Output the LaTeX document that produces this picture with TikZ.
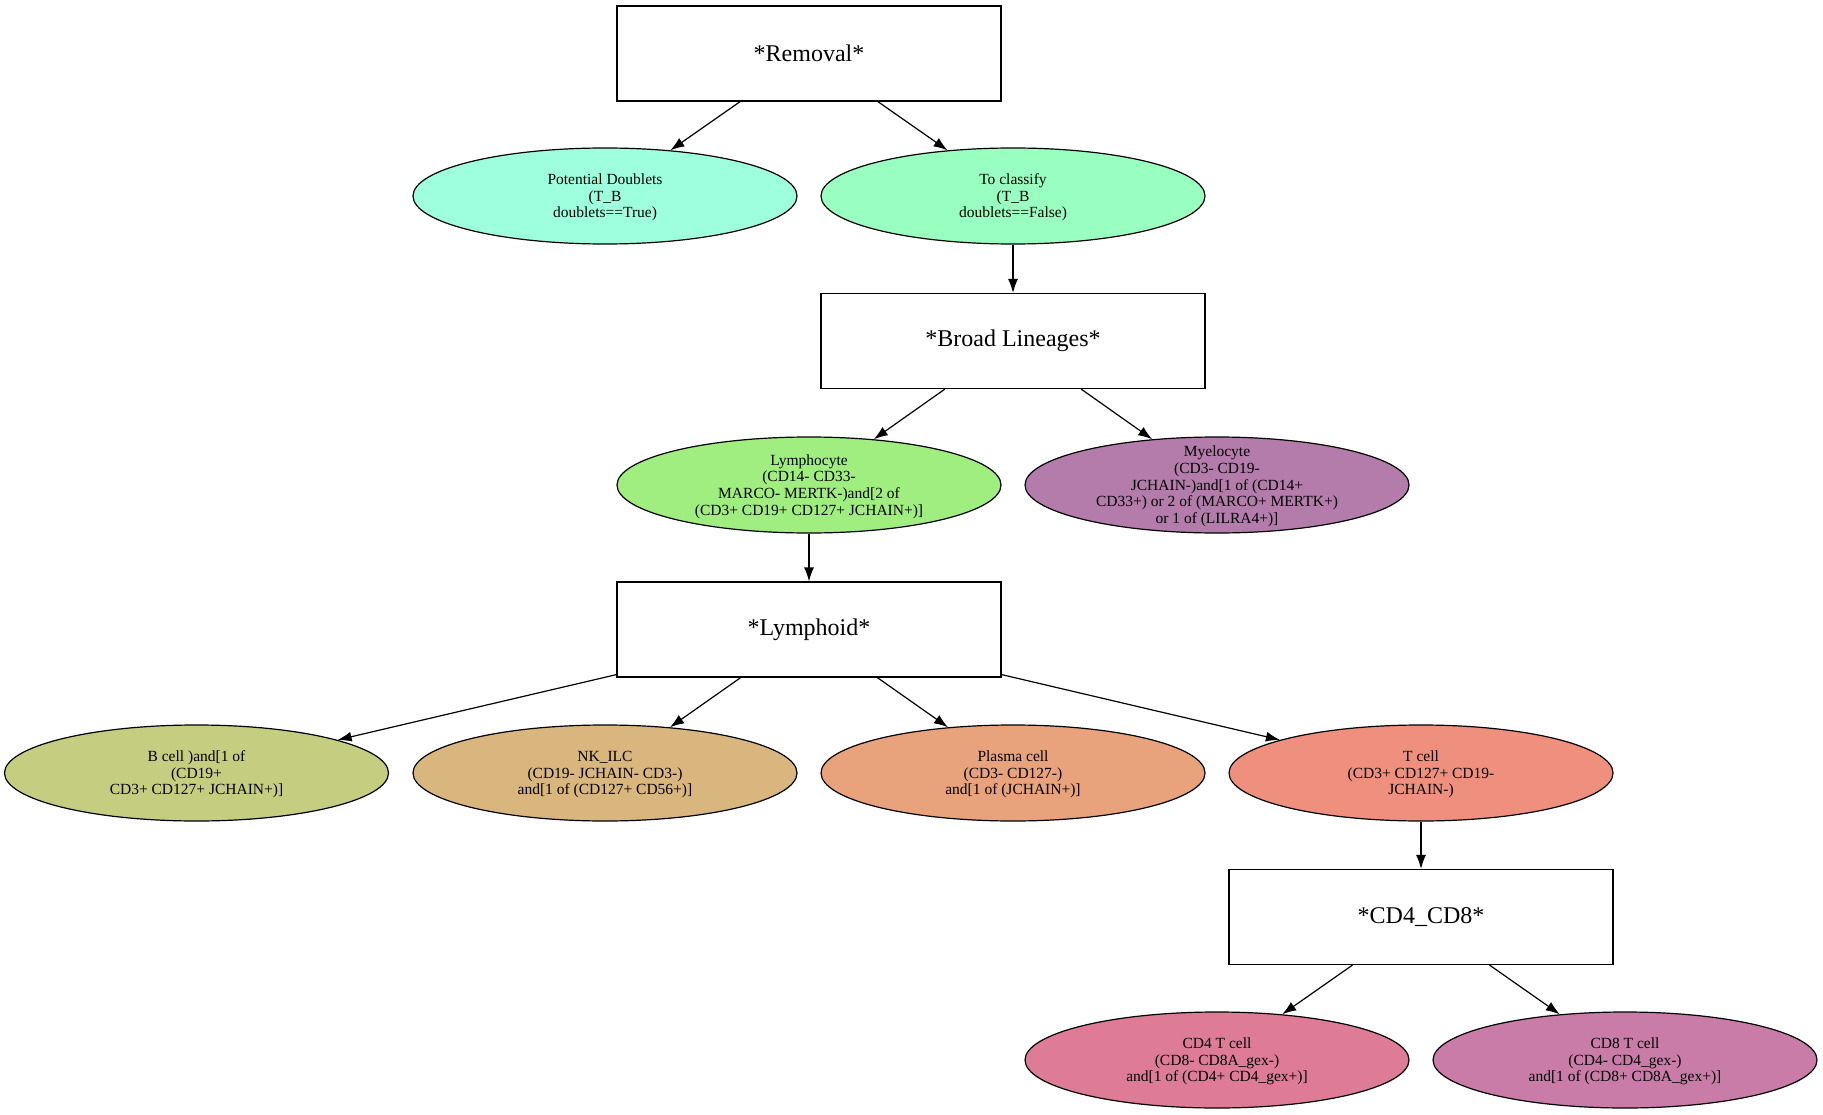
\documentclass[tikz,border=0pt]{standalone}
\usepackage{fontspec}
\setmainfont{Liberation Serif}
\usetikzlibrary{shapes.geometric,arrows.meta}

\definecolor{doubletcol}{RGB}{158,255,223}
\definecolor{classcol}{RGB}{152,255,192}
\definecolor{lymphocol}{RGB}{160,237,128}
\definecolor{myelocol}{RGB}{179,124,171}
\definecolor{bcellcol}{RGB}{197,206,128}
\definecolor{nkcol}{RGB}{216,182,125}
\definecolor{plasmacol}{RGB}{232,162,124}
\definecolor{tcellcol}{RGB}{238,144,125}
\definecolor{cdfourcol}{RGB}{222,124,152}
\definecolor{cdeightcol}{RGB}{202,124,168}

\newcommand{\celltxt}[1]{\smash{\raisebox{-5.5pt}{\begin{tabular}{@{}c@{}}#1\end{tabular}}}}

\tikzset{
    gate/.style={draw, rectangle, minimum width=384, minimum height=95, inner sep=0pt,
        line width=1.2pt, font=\fontsize{24}{28}\selectfont},
    cell/.style={draw, ellipse, minimum width=384, minimum height=96, inner sep=0pt,
        line width=1.2pt, fill=#1, font=\fontsize{15.5}{16.7}\selectfont},
    edge/.style={-{Latex[length=14pt,width=10pt]}, line width=1.2pt}
}

\begin{document}
\begin{tikzpicture}[x=1pt, y=-1pt]
    \useasboundingbox (0,0) rectangle (1823,1115);

    % 1. Removal
    \node[gate] (removal) at (809,53.5) {*Removal*};
    \node[cell=doubletcol] (doublets) at (605,196)
        {\celltxt{Potential Doublets\\(T\_B\\doublets==True)}};
    \node[cell=classcol] (classify) at (1013,196)
        {\celltxt{To classify\\(T\_B\\doublets==False)}};

    % 2. Broad lineages
    \node[gate] (broad) at (1013,341) {*Broad Lineages*};
    \node[cell=lymphocol] (lympho) at (809,485)
        {\celltxt{Lymphocyte\\(CD14- CD33-\\MARCO- MERTK-)and[2 of\\(CD3+ CD19+ CD127+ JCHAIN+)]}};
    \node[cell=myelocol] (myelo) at (1217,485)
        {\celltxt{Myelocyte\\(CD3- CD19-\\JCHAIN-)and[1 of (CD14+\\CD33+) or 2 of (MARCO+ MERTK+)\\or 1 of (LILRA4+)]}};

    % 3. Lymphoid
    \node[gate] (lymphoid) at (809,629.5) {*Lymphoid*};
    \node[cell=bcellcol] (bcell) at (196.5,773)
        {\celltxt{B cell )and[1 of\\(CD19+\\CD3+ CD127+ JCHAIN+)]}};
    \node[cell=nkcol] (nkilc) at (605,773)
        {\celltxt{NK\_ILC\\(CD19- JCHAIN- CD3-)\\and[1 of (CD127+ CD56+)]}};
    \node[cell=plasmacol] (plasma) at (1013,773)
        {\celltxt{Plasma cell\\(CD3- CD127-)\\and[1 of (JCHAIN+)]}};
    \node[cell=tcellcol] (tcell) at (1421,773)
        {\celltxt{T cell\\(CD3+ CD127+ CD19-\\JCHAIN-)}};

    % 4. CD4 / CD8
    \node[gate] (cdsplit) at (1421,917) {*CD4\_CD8*};
    \node[cell=cdfourcol] (cdfour) at (1217,1060)
        {\celltxt{CD4 T cell\\(CD8- CD8A\_gex-)\\and[1 of (CD4+ CD4\_gex+)]}};
    \node[cell=cdeightcol] (cdeight) at (1625,1060)
        {\celltxt{CD8 T cell\\(CD4- CD4\_gex-)\\and[1 of (CD8+ CD8A\_gex+)]}};

    % 5. Edges
    \draw[edge] (removal) -- (doublets);
    \draw[edge] (removal) -- (classify);
    \draw[edge] (classify) -- (broad);
    \draw[edge] (broad) -- (lympho);
    \draw[edge] (broad) -- (myelo);
    \draw[edge] (lympho) -- (lymphoid);
    \draw[edge] (lymphoid) -- (bcell);
    \draw[edge] (lymphoid) -- (nkilc);
    \draw[edge] (lymphoid) -- (plasma);
    \draw[edge] (lymphoid) -- (tcell);
    \draw[edge] (tcell) -- (cdsplit);
    \draw[edge] (cdsplit) -- (cdfour);
    \draw[edge] (cdsplit) -- (cdeight);

\end{tikzpicture}
\end{document}
